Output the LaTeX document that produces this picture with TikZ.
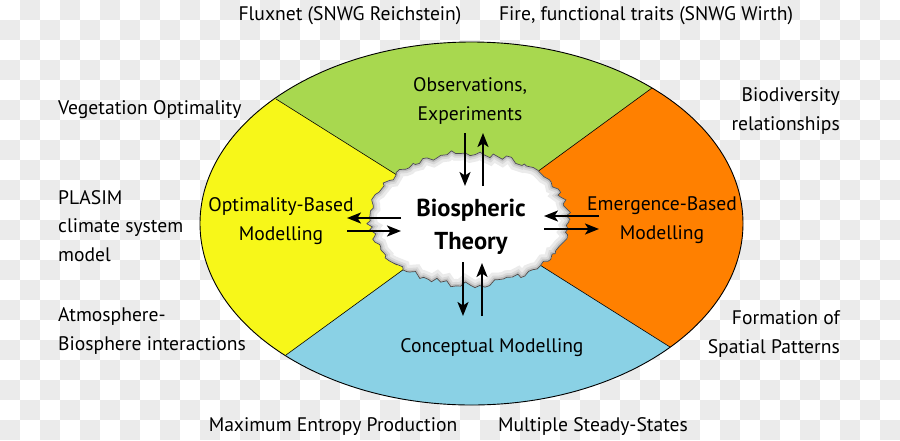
\documentclass[tikz,border=0pt]{standalone}
\usepackage{fontspec}
\setmainfont{PT Sans}
\usetikzlibrary{arrows.meta}
\definecolor{chk}{HTML}{EBEBEB}
\definecolor{segG}{HTML}{A8D84F}
\definecolor{segY}{HTML}{F7F719}
\definecolor{segO}{HTML}{FF8000}
\definecolor{segB}{HTML}{8AD1E5}
\definecolor{edgeC}{HTML}{4A4A4A}
\begin{document}
\begin{tikzpicture}[x=1pt,y=-1pt,
  lbl/.style={font=\fontsize{19.6}{28.5}\selectfont, inner sep=0pt},
  big/.style={font=\bfseries\fontsize{24.5}{33}\selectfont, inner sep=0pt, align=center},
  arr/.style={line width=1.8pt, -{Stealth[length=14pt,width=11pt,inset=3.5pt]}},
  divline/.style={line width=0.6pt, black}]
\useasboundingbox (0,0) rectangle (900,440);
% checkerboard background
\fill[white] (0,0) rectangle (900,440);
\foreach \i in {0,...,44}{
  \foreach \j in {0,...,21}{
    \pgfmathtruncatemacro{\s}{mod(\i+\j,2)}
    \ifnum\s=1 \fill[chk] (\i*20,\j*20) rectangle ++(20,20);\fi
  }
}
% ellipse segments
\coordinate (ctr) at (470,221);
\coordinate (eTL) at (276,99);
\coordinate (eTR) at (652,88);
\coordinate (eBR) at (670,347);
\coordinate (eBL) at (286,355);
\coordinate (fTL) at (82,-23);
\coordinate (fTR) at (834,-45);
\coordinate (fBR) at (870,473);
\coordinate (fBL) at (102,489);
\begin{scope}
  \clip (471.5,223.5) ellipse [x radius=271.5pt, y radius=181.5pt];
  \fill[segG] (ctr) -- (fTL) -- (fTR) -- cycle;
  \fill[segO] (ctr) -- (fTR) -- (fBR) -- cycle;
  \fill[segB] (ctr) -- (fBR) -- (fBL) -- cycle;
  \fill[segY] (ctr) -- (fBL) -- (fTL) -- cycle;
  \draw[divline] (ctr) -- (eTL) (ctr) -- (eTR) (ctr) -- (eBR) (ctr) -- (eBL);
\end{scope}
\draw[line width=0.9pt] (471.5,223.5) ellipse [x radius=271.5pt, y radius=181.5pt];
% jagged cloud
\pgfmathsetseed{11}
\path[save path=\cloudpath] plot[domain=0:360, samples=130, variable=\t]
  ({469+(99+3.5*rand)*cos(\t)}, {219+(66+3.5*rand)*sin(\t)}) -- cycle;
\fill[white, use path=\cloudpath];
\begin{scope}
  \clip[use path=\cloudpath];
  \draw[gray!16, line width=14pt, use path=\cloudpath];
  \draw[gray!30, line width=8pt, use path=\cloudpath];
  \draw[gray!50, line width=4pt, use path=\cloudpath];
\end{scope}
\draw[edgeC, line width=0.7pt, use path=\cloudpath];
\node[big] (theory) at (471,227) {Biospheric\\Theory};
% arrows
\coordinate (t1a) at (465,133); \coordinate (t1b) at (465,186);
\coordinate (t2a) at (483,186); \coordinate (t2b) at (483,133);
\draw[arr] (t1a) -- (t1b);
\draw[arr] (t2a) -- (t2b);
\coordinate (b1a) at (463,262); \coordinate (b1b) at (463,316);
\coordinate (b2a) at (482,316); \coordinate (b2b) at (482,263);
\draw[arr] (b1a) -- (b1b);
\draw[arr] (b2a) -- (b2b);
\coordinate (l1a) at (401,218); \coordinate (l1b) at (347,218);
\coordinate (l2a) at (347,231); \coordinate (l2b) at (401,231);
\draw[arr] (l1a) -- (l1b);
\draw[arr] (l2a) -- (l2b);
\coordinate (r1a) at (599,216); \coordinate (r1b) at (544,216);
\coordinate (r2a) at (544,229); \coordinate (r2b) at (599,229);
\draw[arr] (r1a) -- (r1b);
\draw[arr] (r2a) -- (r2b);
% segment labels
\node[lbl, align=center] (obs) at (470,101) {Observations,\\Experiments};
\node[lbl, align=center] (opt) at (281,221) {Optimality-Based\\Modelling};
\node[lbl, align=center] (emg) at (662,220) {Emergence-Based\\Modelling};
\node[lbl] (con) at (492,348) {Conceptual Modelling};
% outer labels
\node[lbl] (flux) at (350,16) {Fluxnet (SNWG Reichstein)};
\node[lbl] (fire) at (646,16) {Fire, functional traits (SNWG Wirth)};
\node[lbl, anchor=west] (veg) at (58,110) {Vegetation Optimality};
\node[lbl, anchor=west, align=left] (plasim) at (58,226) {PLASIM\\climate system\\model};
\node[lbl, anchor=west, align=left] (atm) at (58,331) {Atmosphere-\\Biosphere interactions};
\node[lbl, anchor=east, align=right] (bio) at (840,111) {Biodiversity\\relationships};
\node[lbl, anchor=east, align=right] (form) at (840,334) {Formation of\\Spatial Patterns};
\node[lbl] (mep) at (333,427) {Maximum Entropy Production};
\node[lbl] (mss) at (593,427) {Multiple Steady-States};
\end{tikzpicture}
\end{document}
